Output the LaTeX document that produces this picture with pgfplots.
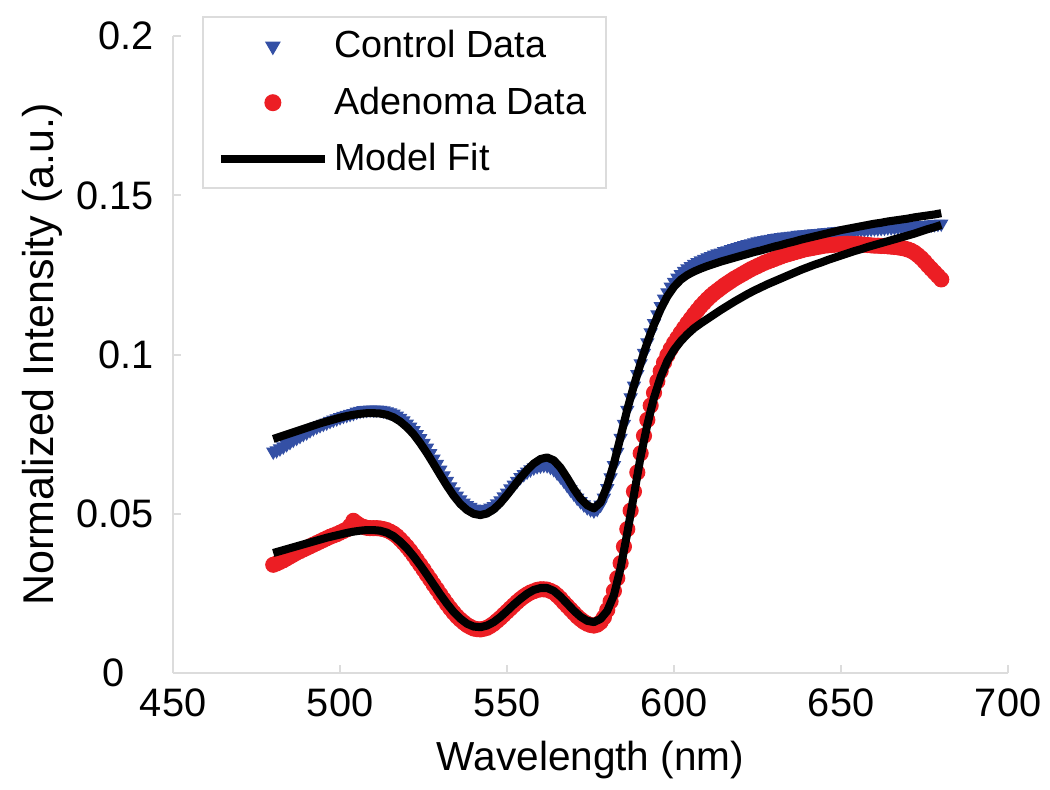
\documentclass[border=0pt]{standalone}
\usepackage{fontspec}
\setmainfont{Liberation Sans}
\usepackage{pgfplots}
\usepackage{pgfplotstable}
\pgfplotsset{compat=1.18}

\definecolor{cblue}{RGB}{52,80,165}
\definecolor{ared}{RGB}{236,30,36}
\definecolor{axgray}{RGB}{220,220,220}

\pgfplotsset{
  marklegend/.style={legend image code/.code={\draw[##1, mark repeat=2, mark phase=2] plot coordinates {(0pt,0pt) (18.7pt,0pt) (37.4pt,0pt)};}},
  linelegend/.style={legend image code/.code={\draw[##1] (0pt,0pt) -- (37.4pt,0pt);}},
}

% measured spectra: wavelength, control, adenoma
\pgfplotstableread{
x   cd    ad
480 .0695 .0340
481 .0699 .0344
482 .0705 .0349
483 .0711 .0354
484 .0718 .0360
485 .0725 .0366
486 .0732 .0372
487 .0738 .0378
488 .0744 .0383
489 .0750 .0388
490 .0755 .0393
491 .0762 .0398
492 .0768 .0403
493 .0773 .0408
494 .0778 .0413
495 .0782 .0418
496 .0786 .0423
497 .0791 .0428
498 .0795 .0432
499 .0799 .0436
500 .0803 .0441
501 .0807 .0446
502 .0810 .0451
503 .0813 .0462
504 .0816 .0478
505 .0820 .0470
506 .0823 .0463
507 .0825 .0459
508 .0826 .0456
509 .0827 .0455
510 .0827 .0455
511 .0827 .0455
512 .0826 .0454
513 .0824 .0452
514 .0821 .0449
515 .0818 .0444
516 .0814 .0438
517 .0808 .0430
518 .0801 .0420
519 .0793 .0409
520 .0783 .0397
521 .0773 .0384
522 .0762 .0370
523 .0750 .0355
524 .0737 .0340
525 .0722 .0325
526 .0707 .0309
527 .0690 .0294
528 .0673 .0278
529 .0656 .0263
530 .0638 .0247
531 .0620 .0232
532 .0603 .0217
533 .0586 .0203
534 .0570 .0190
535 .0557 .0178
536 .0545 .0168
537 .0535 .0159
538 .0527 .0151
539 .0521 .0145
540 .0516 .0140
541 .0513 .0138
542 .0512 .0137
543 .0513 .0139
544 .0515 .0142
545 .0519 .0148
546 .0524 .0155
547 .0532 .0164
548 .0542 .0173
549 .0554 .0183
550 .0566 .0193
551 .0579 .0203
552 .0591 .0213
553 .0603 .0223
554 .0615 .0232
555 .0624 .0240
556 .0632 .0247
557 .0639 .0253
558 .0645 .0257
559 .0649 .0261
560 .0651 .0263
561 .0653 .0263
562 .0652 .0262
563 .0647 .0258
564 .0640 .0253
565 .0629 .0244
566 .0617 .0234
567 .0604 .0222
568 .0590 .0211
569 .0576 .0200
570 .0563 .0189
571 .0550 .0178
572 .0539 .0169
573 .0529 .0161
574 .0520 .0155
575 .0514 .0151
576 .0510 .0149
577 .0515 .0152
578 .0528 .0160
579 .0550 .0175
580 .0580 .0198
581 .0614 .0225
582 .0652 .0258
583 .0694 .0298
584 .0738 .0345
585 .0782 .0397
586 .0826 .0452
587 .0865 .0510
588 .0902 .0570
589 .0938 .0630
590 .0972 .0690
591 .1005 .0745
592 .1038 .0795
593 .1069 .0840
594 .1098 .0880
595 .1126 .0916
596 .1152 .0948
597 .1175 .0975
598 .1195 .0998
599 .1213 .1018
600 .1228 .1036
601 .1241 .1052
602 .1252 .1068
603 .1262 .1083
604 .1270 .1098
605 .1277 .1112
606 .1284 .1126
607 .1290 .1139
608 .1295 .1152
609 .1300 .1163
610 .1305 .1174
611 .1309 .1184
612 .1313 .1193
613 .1317 .1201
614 .1320 .1209
615 .1324 .1217
616 .1327 .1224
617 .1331 .1231
618 .1334 .1238
619 .1337 .1244
620 .1340 .1250
621 .1343 .1256
622 .1346 .1262
623 .1349 .1268
624 .1352 .1273
625 .1355 .1278
626 .1357 .1283
627 .1359 .1288
628 .1361 .1292
629 .1363 .1296
630 .1365 .1300
631 .1367 .1304
632 .1368 .1308
633 .1370 .1312
634 .1371 .1315
635 .1372 .1318
636 .1373 .1321
637 .1375 .1324
638 .1376 .1327
639 .1377 .1330
640 .1378 .1332
641 .1379 .1334
642 .1380 .1336
643 .1381 .1338
644 .1382 .1340
645 .1383 .1342
646 .1384 .1343
647 .1385 .1344
648 .1386 .1345
649 .1387 .1346
650 .1388 .1347
651 .1389 .1348
652 .1390 .1348
653 .1390 .1348
654 .1391 .1347
655 .1392 .1347
656 .1393 .1346
657 .1393 .1345
658 .1394 .1344
659 .1395 .1343
660 .1396 .1342
661 .1396 .1342
662 .1397 .1341
663 .1398 .1341
664 .1399 .1340
665 .1399 .1339
666 .1400 .1338
667 .1400 .1337
668 .1401 .1335
669 .1402 .1333
670 .1403 .1330
671 .1403 .1326
672 .1404 .1320
673 .1405 .1312
674 .1406 .1303
675 .1406 .1292
676 .1407 .1280
677 .1408 .1269
678 .1409 .1258
679 .1410 .1247
680 .1411 .1236
}\meas

% model fits: wavelength, control, adenoma
\pgfplotstableread{
x   cf    af
480 .0735 .0377
482 .0742 .0383
484 .0749 .0389
486 .0756 .0395
488 .0763 .0401
490 .0770 .0407
492 .0777 .0413
494 .0784 .0419
496 .0790 .0425
498 .0796 .0430
500 .0802 .0435
502 .0807 .0440
504 .0811 .0444
506 .0814 .0447
508 .0816 .0449
510 .0816 .0449
512 .0815 .0447
514 .0811 .0441
516 .0803 .0430
518 .0790 .0413
520 .0772 .0392
522 .0750 .0367
524 .0722 .0339
526 .0691 .0309
528 .0657 .0278
530 .0622 .0247
532 .0588 .0218
534 .0557 .0192
536 .0531 .0171
538 .0512 .0155
540 .0500 .0146
542 .0496 .0144
544 .0501 .0149
546 .0514 .0160
548 .0534 .0176
550 .0559 .0195
552 .0586 .0215
554 .0613 .0233
556 .0637 .0249
558 .0658 .0261
560 .0672 .0267
562 .0677 .0267
564 .0668 .0258
566 .0645 .0240
568 .0613 .0218
570 .0578 .0196
572 .0548 .0177
574 .0527 .0164
576 .0517 .0160
578 .0536 .0170
580 .0588 .0195
582 .0658 .0245
584 .0742 .0330
586 .0828 .0440
588 .0903 .0560
590 .0973 .0680
592 .1038 .0780
594 .1094 .0865
596 .1143 .0930
598 .1183 .0980
600 .1213 .1015
602 .1235 .1042
604 .1250 .1064
606 .1261 .1083
608 .1270 .1098
610 .1278 .1112
612 .1285 .1126
614 .1292 .1140
616 .1298 .1153
618 .1304 .1166
620 .1310 .1178
622 .1316 .1190
624 .1322 .1201
626 .1327 .1211
628 .1333 .1221
630 .1339 .1230
632 .1344 .1239
634 .1350 .1248
636 .1355 .1257
638 .1361 .1266
640 .1366 .1274
642 .1371 .1282
644 .1376 .1289
646 .1381 .1297
648 .1386 .1304
650 .1391 .1311
652 .1395 .1318
654 .1399 .1325
656 .1403 .1331
658 .1407 .1338
660 .1411 .1344
662 .1414 .1350
664 .1418 .1356
666 .1421 .1362
668 .1424 .1368
670 .1427 .1374
672 .1431 .1380
674 .1434 .1387
676 .1437 .1394
678 .1440 .1400
680 .1444 .1407
}\fits

\begin{document}
\begin{tikzpicture}
\begin{axis}[
  at={(0,0)}, anchor=south west,
  scale only axis, width=300.6pt, height=229.3pt,
  xmin=450, xmax=700, ymin=0, ymax=0.2,
  xtick={450,500,...,700}, ytick={0,0.05,0.1,0.15,0.2},
  yticklabels={0\hspace*{10.4pt},0.05,0.1,0.15,0.2},
  scaled y ticks=false,
  clip marker paths=true,
  yticklabel style={xshift=-3.4pt},
  xticklabel style={yshift=-2pt},
  /pgf/number format/assume math mode=true,
  axis x line*=bottom, axis y line*=left,
  axis line style={draw=axgray, line width=0.7pt},
  tick style={draw=axgray, line width=0.7pt},
  tick align=inside, major tick length=3pt,
  font=\fontsize{14.3}{17}\selectfont,
  xlabel={Wavelength (nm)}, ylabel={Normalized Intensity (a.u.)},
  xlabel style={at={(rel axis cs:0.5,0)}, anchor=base, yshift=-35pt,
    font=\fontsize{14.6}{17}\selectfont},
  ylabel style={at={(axis description cs:-0.1437,0.5)}, anchor=base,
    font=\fontsize{15.5}{18}\selectfont},
  legend style={at={(axis description cs:0.0347,1.031)}, anchor=north west,
    draw=axgray, line width=0.7pt, fill=white, inner xsep=5pt, inner ysep=2.7pt,
    row sep=5pt, font=\fontsize{13.6}{16}\selectfont},
  legend cell align=left,
]
\addplot[only marks, mark=triangle*, mark size=2.6pt, color=cblue,
  mark options={rotate=180, fill=cblue, draw=cblue}, marklegend]
  table[x=x, y=cd] {\meas};
\addlegendentry{Control Data}
\addplot[only marks, mark=*, mark size=2.7pt, color=ared,
  mark options={fill=ared, draw=ared}, marklegend]
  table[x=x, y=ad] {\meas};
\addlegendentry{Adenoma Data}
\addplot[black, line width=2.9pt, line join=round, no marks, linelegend]
  table[x=x, y=cf] {\fits};
\addlegendentry{Model Fit}
\addplot[black, line width=2.9pt, line join=round, no marks, forget plot]
  table[x=x, y=af] {\fits};
\end{axis}
\pgfresetboundingbox
\useasboundingbox (-62.3pt,-41.8pt) rectangle (315.7pt,242.3pt);
\end{tikzpicture}
\end{document}
